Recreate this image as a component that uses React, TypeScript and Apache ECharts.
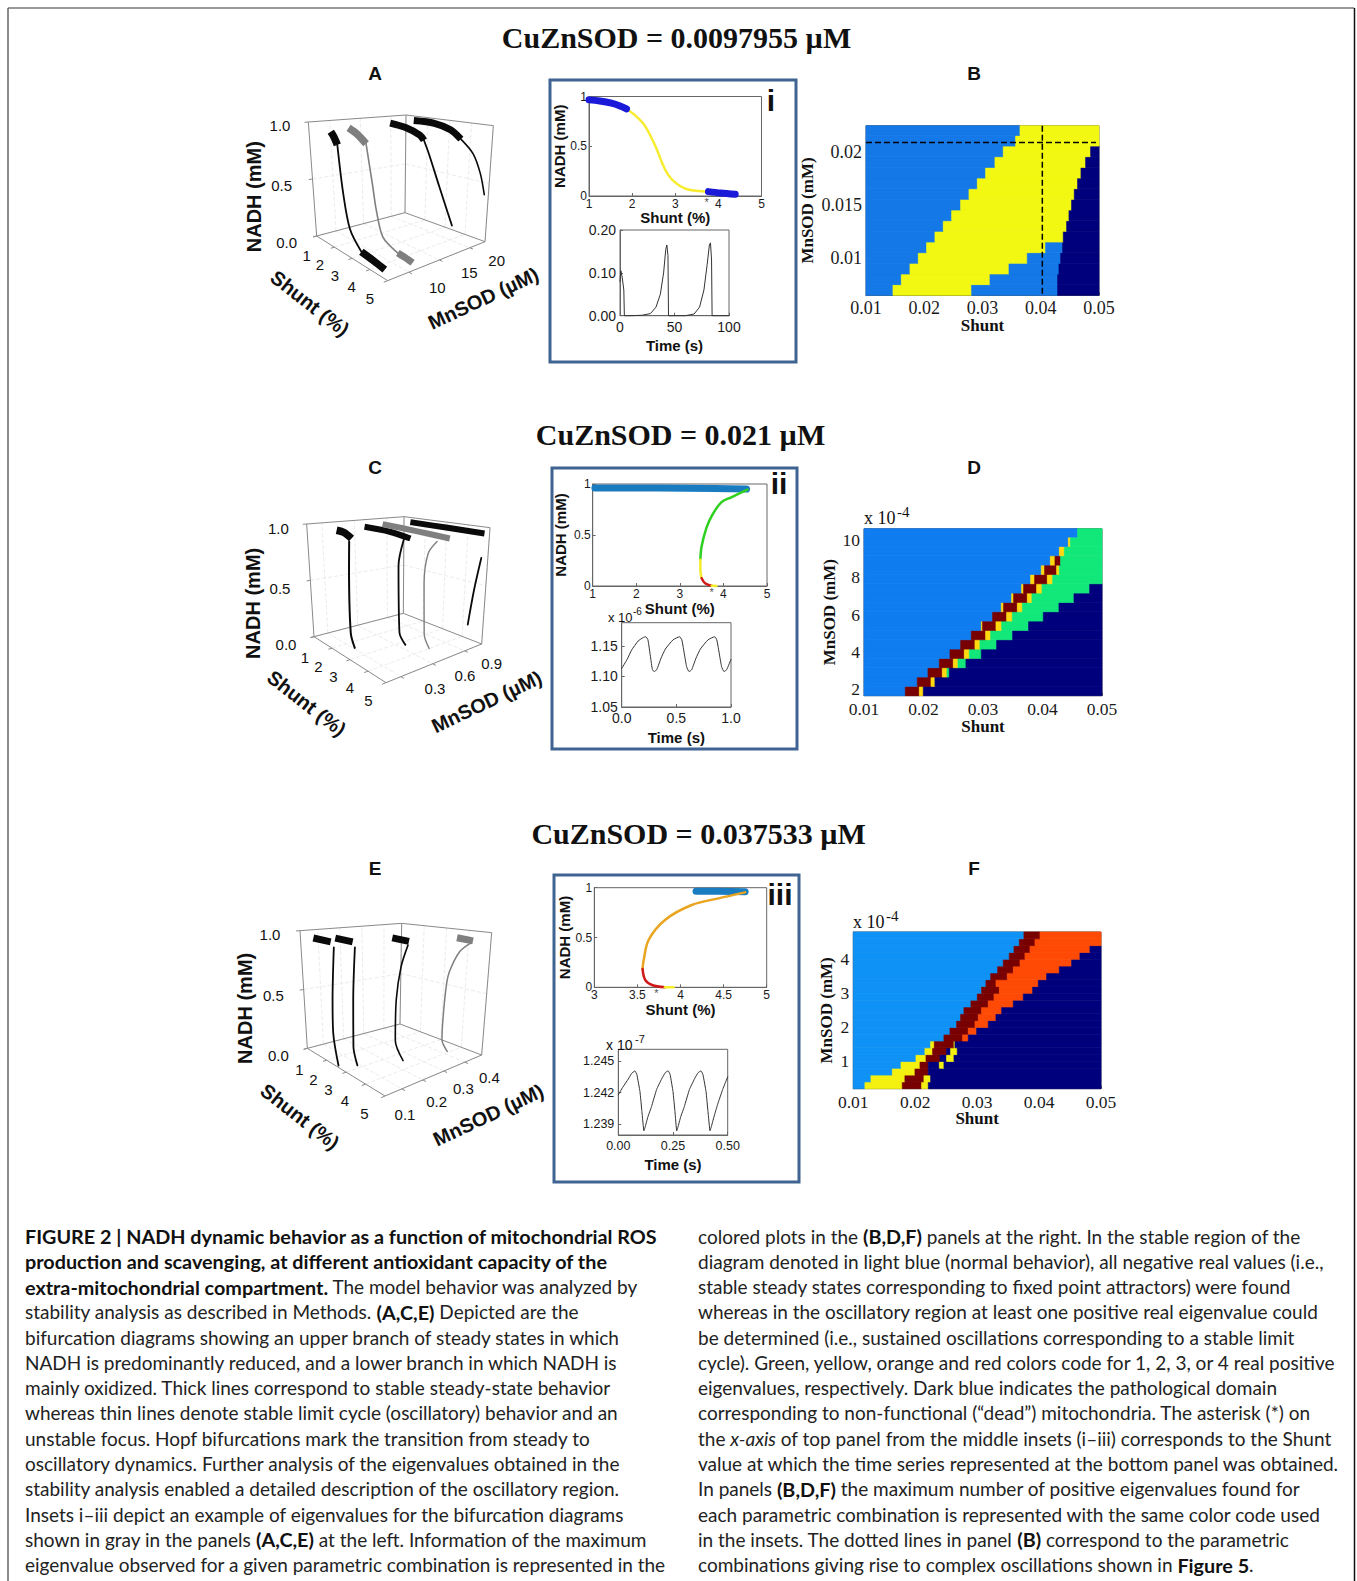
import React, { useEffect, useRef } from "react";
import * as echarts from "echarts";

const WIDTH = 1357;
const HEIGHT = 1581;
const SANS = "Liberation Sans";
const SERIF = "Liberation Serif";
const CAP = "Lato";

// ---------- headings ----------
const headings = ["CuZnSOD = 0.0097955 µM", "CuZnSOD = 0.021 µM", "CuZnSOD = 0.037533 µM"];

// ---------- bifurcation insets [shunt %, NADH mM] ----------
const iUpper = [[1, 0.966], [1.25, 0.955], [1.52, 0.933], [1.72, 0.905], [1.87, 0.875]];
const iOsc = [[1.87, 0.875], [2.06, 0.815], [2.29, 0.71], [2.53, 0.51], [2.84, 0.21], [3.22, 0.077], [3.69, 0.044], [3.8, 0.04]];
const iLower = [[3.77, 0.044], [4.05, 0.03], [4.39, 0.017]];
const iStar = [[3.73, 0]];

const iiUpper = [[1.05, 0.96], [2.5, 0.96], [3.8, 0.955], [4.53, 0.95]];
const iiGreen = [[4.55, 0.945], [4.18, 0.87], [3.95, 0.82], [3.73, 0.686], [3.61, 0.57], [3.5, 0.39], [3.47, 0.257]];
const iiYellow = [[3.47, 0.257], [3.47, 0.16], [3.5, 0.076]];
const iiRed = [[3.5, 0.076], [3.58, 0.026], [3.73, 0.003]];
const iiYellow2 = [[3.73, 0.003], [3.84, 0]];
const iiStar = [[3.73, 0]];

const iiiUpper = [[4.18, 0.965], [4.45, 0.965], [4.75, 0.96]];
const iiiOrange = [[4.75, 0.953], [4.44, 0.893], [4.13, 0.826], [3.82, 0.676], [3.63, 0.475], [3.57, 0.258], [3.56, 0.184]];
const iiiRed = [[3.56, 0.184], [3.59, 0.074], [3.67, 0.023], [3.82, 0]];
const iiiYellow = [[3.82, 0], [3.92, 0]];
const iiiStar = [[3.72, 0]];

// ---------- time series insets ----------
const iTime = [[0, 0.08], [0.8, 0.105], [2, 0.09], [3.5, 0.06], [4, 0], [10, 0], [20, 0.001], [28, 0.005], [33, 0.02], [37, 0.05], [40, 0.1], [42, 0.155], [43, 0.165], [44, 0.14], [44.5, 0], [60, 0], [68, 0.004], [73, 0.02], [77, 0.06], [80, 0.12], [82, 0.165], [83, 0.17], [84, 0.13], [84.5, 0], [100, 0]];
const iiTime = [[0, 1.113], [0.05, 1.128], [0.09, 1.143], [0.15, 1.158], [0.2, 1.164], [0.22, 1.165], [0.24, 1.16], [0.265, 1.13], [0.28, 1.112], [0.295, 1.108], [0.32, 1.111], [0.36, 1.13], [0.4, 1.145], [0.47, 1.16], [0.53, 1.165], [0.55, 1.16], [0.575, 1.135], [0.594, 1.116], [0.616, 1.108], [0.64, 1.111], [0.68, 1.13], [0.72, 1.145], [0.79, 1.16], [0.85, 1.165], [0.87, 1.16], [0.895, 1.135], [0.914, 1.116], [0.936, 1.108], [0.96, 1.111], [1, 1.128]];
const iiiTime = [[0, 1.2418], [0.02, 1.2425], [0.046, 1.2433], [0.06, 1.2438], [0.076, 1.24406], [0.085, 1.2437], [0.099, 1.2421], [0.108, 1.2402], [0.117, 1.2384], [0.122, 1.2387], [0.135, 1.2397], [0.152, 1.2407], [0.175, 1.2423], [0.198, 1.2433], [0.215, 1.2439], [0.228, 1.24406], [0.237, 1.2437], [0.25, 1.2421], [0.259, 1.2402], [0.267, 1.2384], [0.272, 1.2387], [0.285, 1.2397], [0.302, 1.2407], [0.325, 1.2423], [0.348, 1.2433], [0.365, 1.2439], [0.378, 1.24406], [0.387, 1.2437], [0.401, 1.2421], [0.41, 1.2402], [0.419, 1.2384], [0.424, 1.2387], [0.437, 1.2397], [0.454, 1.2409], [0.477, 1.2423], [0.5, 1.2435]];

// ---------- 3D bifurcation curves [shunt %, NADH mM] ----------
const aM = [7.8, 11.5, 18.5, 22];
const a1Upper = [[1.7, 0.93], [1.85, 0.89], [2, 0.83]];
const a1Thin = [[2, 0.83], [2.2, 0.44], [2.5, 0.17], [3.1, 0.04]];
const a1Lower = [[3.1, 0.04], [3.8, 0.025], [4.4, 0.01]];
const a2Upper = [[1.46, 0.94], [1.85, 0.9], [2.3, 0.83]];
const a2Thin = [[2.3, 0.83], [2.6, 0.48], [2.76, 0.3], [3.1, 0.1], [3.9, 0.035]];
const a2Lower = [[3.9, 0.035], [4.3, 0.03], [4.7, 0.02]];
const a3Upper = [[1.4, 0.95], [2.1, 0.93], [2.8, 0.88], [3, 0.84]];
const a3Thin = [[3, 0.84], [3.25, 0.73], [3.8, 0.47], [4.5, 0.18]];
const a4Upper = [[1.5, 0.96], [2.45, 0.96], [3.2, 0.92], [3.7, 0.85]];
const a4Thin = [[3.7, 0.85], [4.3, 0.74], [4.7, 0.58], [4.95, 0.41]];

const cM = [0.313, 0.655, 0.745, 1.03];
const c1Upper = [[1.64, 0.95], [2, 0.94], [2.36, 0.9]];
const c1Thin = [[2.24, 0.87], [2.2, 0.66], [2.2, 0.105], [2.4, 0]];
const c2Upper = [[1.2, 0.94], [2.4, 0.93], [3.4, 0.9]];
const c2Thin = [[3.08, 0.88], [2.84, 0.65], [2.92, 0.08], [3.24, 0]];
const c3Upper = [[1.6, 0.97], [3.2, 0.95], [4.8, 0.93]];
const c3Thin = [[4.2, 0.89], [3.8, 0.78], [3.64, 0.52], [3.72, 0.1], [4, 0]];
const c4Upper = [[1.45, 0.96], [3.2, 0.955], [4.92, 0.95]];
const c4Thin = [[4.85, 0.74], [4.6, 0.45], [4.4, 0.14]];

const eM = [0.03, 0.09, 0.25, 0.42];
const e1Upper = [[1.5, 0.95], [2.3, 0.94]];
const e1Thin = [[2.44, 0.9], [2.3, 0.49], [2.28, 0.23], [2.5, 0]];
const e2Upper = [[1.9, 0.95], [2.7, 0.94]];
const e2Thin = [[2.8, 0.9], [2.68, 0.49], [2.65, 0.13], [2.84, 0]];
const e3Upper = [[2.88, 0.95], [3.64, 0.94]];
const e3Thin = [[3.6, 0.91], [3.3, 0.73], [3.1, 0.46], [3.08, 0.13], [3.48, 0]];
const e4Upper = [[4.08, 0.95], [4.8, 0.94]];
const e4Thin = [[4.7, 0.92], [4.24, 0.84], [3.84, 0.67], [3.72, 0.55], [3.64, 0.27], [3.64, 0.08], [3.92, 0]];

// ---------- regime maps: L light blue, G green, Y yellow, O orange, R red, N dark blue ----------
const L = 0, G = 1, Y = 2, O = 3, R = 4, N = 5;
const bRowBase = 0.00653;
const bRowStep = 0.001;
const bRows = [
  [[L, 0.01463], [Y, 0.02814], [L, 0.0429], [N, 0.05]],
  [[L, 0.01607], [Y, 0.03129], [L, 0.0429], [N, 0.05]],
  [[L, 0.01755], [Y, 0.03455], [L, 0.04313], [N, 0.05]],
  [[L, 0.01898], [Y, 0.03769], [L, 0.04342], [N, 0.05]],
  [[L, 0.02041], [Y, 0.04084], [L, 0.04376], [N, 0.05]],
  [[L, 0.02184], [Y, 0.04387], [N, 0.05]],
  [[L, 0.02327], [Y, 0.04445], [N, 0.05]],
  [[L, 0.02471], [Y, 0.04485], [N, 0.05]],
  [[L, 0.02625], [Y, 0.0453], [N, 0.05]],
  [[L, 0.02768], [Y, 0.04576], [N, 0.05]],
  [[L, 0.02911], [Y, 0.04633], [N, 0.05]],
  [[L, 0.03054], [Y, 0.04691], [N, 0.05]],
  [[L, 0.03214], [Y, 0.04771], [N, 0.05]],
  [[L, 0.03357], [Y, 0.04857], [N, 0.05]],
  [[L, 0.03569], [Y, 0.05]],
  [[L, 0.03644], [Y, 0.05]],
];
const bDashH = [[0.01, 0.02087], [0.0495, 0.02087]];
const bDashV = [[0.04027, 0.02244], [0.04027, 0.00653]];

const dRowBase = 1.66;
const dRowStep = 0.5;
const dRows = [
  [[L, 0.01695], [R, 0.0193], [Y, 0.01997], [N, 0.05]],
  [[L, 0.01896], [R, 0.02126], [Y, 0.02193], [N, 0.05]],
  [[L, 0.02076], [R, 0.02316], [Y, 0.02395], [G, 0.02434], [N, 0.05]],
  [[L, 0.02266], [R, 0.02501], [Y, 0.0258], [G, 0.02714], [N, 0.05]],
  [[L, 0.02445], [R, 0.02686], [Y, 0.0277], [G, 0.02972], [N, 0.05]],
  [[L, 0.02625], [R, 0.02865], [Y, 0.02949], [G, 0.0323], [N, 0.05]],
  [[L, 0.02804], [R, 0.03045], [Y, 0.03129], [G, 0.03498], [N, 0.05]],
  [[L, 0.02972], [Y, 0.02994], [R, 0.03218], [Y, 0.03314], [G, 0.03767], [N, 0.05]],
  [[L, 0.03162], [R, 0.03398], [Y, 0.03493], [G, 0.04014], [N, 0.05]],
  [[L, 0.03308], [Y, 0.03347], [R, 0.03577], [Y, 0.03661], [G, 0.04277], [N, 0.05]],
  [[L, 0.03482], [Y, 0.03515], [R, 0.03745], [Y, 0.03823], [G, 0.04529], [N, 0.05]],
  [[L, 0.0365], [Y, 0.03683], [R, 0.03902], [Y, 0.03992], [G, 0.04793], [N, 0.05]],
  [[L, 0.03801], [Y, 0.03868], [R, 0.04081], [Y, 0.04171], [G, 0.05]],
  [[L, 0.0398], [Y, 0.04036], [R, 0.04238], [Y, 0.04283], [G, 0.05]],
  [[L, 0.04132], [Y, 0.0421], [R, 0.04305], [G, 0.05]],
  [[L, 0.04283], [Y, 0.04367], [G, 0.05]],
  [[L, 0.04434], [Y, 0.04468], [G, 0.05]],
  [[L, 0.04591], [G, 0.05]],
];

const fRowBase = 0.174;
const fRowStep = 0.201;
const fRows = [
  [[L, 0.01188], [Y, 0.01791], [R, 0.02104], [Y, 0.02211], [N, 0.05]],
  [[L, 0.01285], [Y, 0.01834], [R, 0.02141], [Y, 0.02249], [N, 0.05]],
  [[L, 0.0163], [Y, 0.01996], [R, 0.02211], [N, 0.05]],
  [[L, 0.0177], [Y, 0.02077], [R, 0.02211], [N, 0.02389], [Y, 0.02464], [N, 0.05]],
  [[L, 0.02012], [Y, 0.02174], [R, 0.024], [N, 0.02507], [Y, 0.02626], [N, 0.05]],
  [[L, 0.02157], [Y, 0.02281], [R, 0.02507], [N, 0.02572], [Y, 0.0268], [N, 0.05]],
  [[L, 0.02249], [Y, 0.02308], [R, 0.02626], [Y, 0.02642], [N, 0.05]],
  [[L, 0.02464], [R, 0.02766], [O, 0.02857], [N, 0.05]],
  [[L, 0.02561], [R, 0.02857], [O, 0.02992], [N, 0.05]],
  [[L, 0.02669], [R, 0.02965], [O, 0.0318], [N, 0.05]],
  [[L, 0.02733], [R, 0.03019], [O, 0.03304], [N, 0.05]],
  [[L, 0.02787], [R, 0.03072], [O, 0.03396], [N, 0.05]],
  [[L, 0.029], [R, 0.0318], [O, 0.03584], [N, 0.05]],
  [[L, 0.03003], [R, 0.03272], [O, 0.03745], [N, 0.05]],
  [[L, 0.03072], [R, 0.03358], [O, 0.03896], [N, 0.05]],
  [[L, 0.03142], [R, 0.03304], [O, 0.03988], [N, 0.05]],
  [[L, 0.03218], [R, 0.03487], [O, 0.04122], [N, 0.05]],
  [[L, 0.03331], [R, 0.03584], [O, 0.04327], [N, 0.05]],
  [[L, 0.03422], [R, 0.03692], [O, 0.04526], [N, 0.05]],
  [[L, 0.03519], [R, 0.03772], [O, 0.0466], [N, 0.05]],
  [[L, 0.03595], [R, 0.03853], [O, 0.04822], [N, 0.05]],
  [[L, 0.03681], [R, 0.03934], [O, 0.05]],
  [[L, 0.03756], [R, 0.04015], [O, 0.05]],
];

// ---------- caption ----------
const captionLeft = [
  "{b|FIGURE 2 | NADH dynamic behavior as a function of mitochondrial ROS}",
  "{b|production and scavenging, at different antioxidant capacity of the}",
  "{b|extra-mitochondrial compartment.} The model behavior was analyzed by",
  "stability analysis as described in Methods. {b|(A,C,E)} Depicted are the",
  "bifurcation diagrams showing an upper branch of steady states in which",
  "NADH is predominantly reduced, and a lower branch in which NADH is",
  "mainly oxidized. Thick lines correspond to stable steady-state behavior",
  "whereas thin lines denote stable limit cycle (oscillatory) behavior and an",
  "unstable focus. Hopf bifurcations mark the transition from steady to",
  "oscillatory dynamics. Further analysis of the eigenvalues obtained in the",
  "stability analysis enabled a detailed description of the oscillatory region.",
  "Insets i–iii depict an example of eigenvalues for the bifurcation diagrams",
  "shown in gray in the panels {b|(A,C,E)} at the left. Information of the maximum",
  "eigenvalue observed for a given parametric combination is represented in the",
];
const captionRight = [
  "colored plots in the {b|(B,D,F)} panels at the right. In the stable region of the",
  "diagram denoted in light blue (normal behavior), all negative real values (i.e.,",
  "stable steady states corresponding to fixed point attractors) were found",
  "whereas in the oscillatory region at least one positive real eigenvalue could",
  "be determined (i.e., sustained oscillations corresponding to a stable limit",
  "cycle). Green, yellow, orange and red colors code for 1, 2, 3, or 4 real positive",
  "eigenvalues, respectively. Dark blue indicates the pathological domain",
  "corresponding to non-functional (“dead”) mitochondria. The asterisk (*) on",
  "the {i|x-axis} of top panel from the middle insets (i–iii) corresponds to the Shunt",
  "value at which the time series represented at the bottom panel was obtained.",
  "In panels {b|(B,D,F)} the maximum number of positive eigenvalues found for",
  "each parametric combination is represented with the same color code used",
  "in the insets. The dotted lines in panel {b|(B)} correspond to the parametric",
  "combinations giving rise to complex oscillations shown in {b|Figure 5}.",
];

type Box = { l: number; r: number; t: number; b: number };

function buildOption() {
  const grids: any[] = [];
  const xAxes: any[] = [];
  const yAxes: any[] = [];
  const series: any[] = [];
  const graphic: any[] = [];

  const text = (x: number, y: number, t: string, font: string, extra: any = {}) => {
    const { rotation, align, vAlign, fill } = extra;
    graphic.push({
      type: "text",
      x,
      y,
      rotation: rotation || 0,
      z: 20,
      style: {
        text: t,
        font,
        fill: fill || "#111",
        textAlign: align || "center",
        textVerticalAlign: vAlign || "middle",
      },
    });
  };

  const axisBase = (fontFamily: string, fontSize: number, nameSize: number, color = "#444") => ({
    type: "value",
    axisLine: { show: true, onZero: false, lineStyle: { color, width: 1 } },
    axisTick: { show: true, inside: true, length: 3, lineStyle: { color, width: 1 } },
    splitLine: { show: false },
    axisLabel: { color: "#1a1a1a", fontFamily, fontSize, margin: 4, showMinLabel: true, showMaxLabel: true },
    nameLocation: "middle",
    nameMoveOverlap: false,
    nameTextStyle: { color: "#111", fontFamily, fontSize: nameSize, fontWeight: "bold" },
  });

  const addPlot = (box: Box, x: any, y: any, style: any) => {
    const i = grids.length;
    grids.push({
      show: true,
      left: box.l,
      top: box.t,
      width: box.r - box.l,
      height: box.b - box.t,
      borderColor: style.border,
      borderWidth: 1,
      backgroundColor: "transparent",
    });
    const base = axisBase(style.family, style.size, style.nameSize, style.border);
    xAxes.push({ ...base, ...x, gridIndex: i, axisLabel: { ...base.axisLabel, ...(x.axisLabel || {}) }, axisTick: { ...base.axisTick, ...(x.axisTick || {}) } });
    yAxes.push({ ...base, ...y, gridIndex: i, axisLabel: { ...base.axisLabel, ...(y.axisLabel || {}) }, axisTick: { ...base.axisTick, ...(y.axisTick || {}) } });
    return i;
  };

  const addLine = (idx: number, data: number[][], color: string, width: number, smooth: any = 0.35, z = 3, cap = "round") => {
    series.push({
      type: "line",
      xAxisIndex: idx,
      yAxisIndex: idx,
      data,
      showSymbol: false,
      symbol: "none",
      smooth,
      silent: true,
      clip: false,
      z,
      lineStyle: { color, width, cap, join: "round" },
    });
  };

  const addStar = (idx: number, data: number[][]) => {
    series.push({
      type: "scatter",
      xAxisIndex: idx,
      yAxisIndex: idx,
      data,
      symbolSize: 0,
      clip: false,
      silent: true,
      label: { show: true, formatter: "*", position: "bottom", distance: 0, color: "#222", fontSize: 11, fontFamily: SANS },
    });
  };

  const fx1 = (v: number) => v.toFixed(1);
  const fx2 = (v: number) => v.toFixed(2);
  const fx3 = (v: number) => v.toFixed(3);

  // ---------- bifurcation + time insets ----------
  const topStyle = { border: "#666", family: SANS, size: 12, nameSize: 15 };
  const lowStyle = { border: "#666", family: SANS, size: 14, nameSize: 15 };
  const topLabel = { margin: 2 };

  const topY = (gap: number) => ({ min: 0, max: 1, interval: 0.5, name: "NADH (mM)", nameGap: gap, axisLabel: topLabel });

  const i1 = addPlot({ l: 589, r: 761.5, t: 96.5, b: 196 },
    { min: 1, max: 5, interval: 1, name: "Shunt (%)", nameGap: 14, axisLabel: topLabel }, topY(22), topStyle);
  addLine(i1, iOsc, "#f7ec2e", 2.5);
  addLine(i1, iUpper, "#1a1ad8", 7);
  addLine(i1, iLower, "#1a1ad8", 7);
  addStar(i1, iStar);

  const i2 = addPlot({ l: 620, r: 729, t: 230, b: 315.7 },
    { min: 0, max: 100, interval: 50, name: "Time (s)", nameGap: 22 },
    { min: 0, max: 0.2, interval: 0.1, axisLabel: { formatter: fx2 } }, lowStyle);
  addLine(i2, iTime, "#333", 1, false);

  const ii1 = addPlot({ l: 592.7, r: 767, t: 484, b: 586 },
    { min: 1, max: 5, interval: 1, name: "Shunt (%)", nameGap: 15, axisLabel: topLabel }, topY(25), topStyle);
  addLine(ii1, iiGreen, "#2fd020", 2.5);
  addLine(ii1, iiYellow, "#f3ec2a", 2.5);
  addLine(ii1, iiRed, "#d01a1a", 2.5);
  addLine(ii1, iiYellow2, "#f3ec2a", 2.5, false);
  addLine(ii1, iiUpper, "#1a7cc0", 7, false, 2);
  addStar(ii1, iiStar);

  const ii2 = addPlot({ l: 621.7, r: 731, t: 622.7, b: 707 },
    { min: 0, max: 1, interval: 0.5, name: "Time (s)", nameGap: 23, axisLabel: { formatter: fx1 } },
    { min: 1.05, max: 1.188, axisLabel: { formatter: fx2, customValues: [1.05, 1.1, 1.15] }, axisTick: { customValues: [1.05, 1.1, 1.15] } }, lowStyle);
  addLine(ii2, iiTime, "#333", 1, 0.15);

  const iii1 = addPlot({ l: 594.3, r: 766.7, t: 887.7, b: 987.3 },
    { min: 3, max: 5, interval: 0.5, name: "Shunt (%)", nameGap: 15, axisLabel: topLabel }, topY(22), topStyle);
  addLine(iii1, iiiUpper, "#1a7cc0", 7, false, 2);
  addLine(iii1, iiiOrange, "#e9a420", 2.5);
  addLine(iii1, iiiRed, "#d01a1a", 2.5);
  addLine(iii1, iiiYellow, "#f7ef2a", 2.5, false);
  addStar(iii1, iiiStar);

  const iii2 = addPlot({ l: 618.3, r: 727.7, t: 1049.3, b: 1135 },
    { min: 0, max: 0.5, interval: 0.25, name: "Time (s)", nameGap: 22, axisLabel: { formatter: fx2, fontSize: 12.5 } },
    { min: 1.238, max: 1.2461, axisLabel: { formatter: fx3, fontSize: 12.5, customValues: [1.239, 1.242, 1.245] }, axisTick: { customValues: [1.239, 1.242, 1.245] } }, lowStyle);
  addLine(iii2, iiiTime, "#333", 1, 0.1);

  // ---------- regime maps ----------
  const renderCell = (palette: string[]) => (_: any, api: any) => {
    const p1 = api.coord([api.value(0), api.value(3)]);
    const p2 = api.coord([api.value(1), api.value(2)]);
    const fill = palette[api.value(4)];
    return {
      type: "rect",
      shape: { x: p1[0], y: p1[1], width: p2[0] - p1[0], height: p2[1] - p1[1] },
      style: { fill, stroke: fill, lineWidth: 0.7 },
    };
  };

  const addMap = (box: Box, rows: any[], base: number, step: number, ymax: number, yTicks: number[], yFmt: any, palette: string[], xGap: number, yGap: number, fontSize: number) => {
    const idx = addPlot(box,
      { min: 0.01, max: 0.05, interval: 0.01, name: "Shunt", nameGap: xGap, axisLabel: { formatter: fx2 } },
      { min: base, max: ymax, name: "MnSOD (mM)", nameGap: yGap, axisLabel: { formatter: yFmt, customValues: yTicks }, axisTick: { customValues: yTicks } },
      { border: "#555", family: SERIF, size: fontSize, nameSize: 17 });
    const cells: number[][] = [];
    rows.forEach((row, r) => {
      let x0 = 0.01;
      const y0 = base + r * step;
      const y1 = Math.min(ymax, y0 + step);
      row.forEach(([code, x1]: number[]) => {
        cells.push([x0, x1, y0, y1, code]);
        x0 = x1;
      });
    });
    series.push({
      type: "custom",
      xAxisIndex: idx,
      yAxisIndex: idx,
      data: cells,
      silent: true,
      z: 1,
      encode: { x: [0, 1], y: [2, 3] },
      renderItem: renderCell(palette),
    });
    return idx;
  };

  const bMap = addMap({ l: 866, r: 1099, t: 125.7, b: 295.3 }, bRows, bRowBase, bRowStep, 0.02244, [0.01, 0.015, 0.02], (v: number) => String(v),
    ["#1478e6", "#12e87a", "#f2f811", "#ff4a05", "#780000", "#00007c"], 22, 50, 18);
  const dashed = { type: "dashed" };
  series.push({ type: "line", xAxisIndex: bMap, yAxisIndex: bMap, data: bDashH, showSymbol: false, silent: true, z: 5, lineStyle: { color: "#000", width: 1.5, ...dashed } });
  series.push({ type: "line", xAxisIndex: bMap, yAxisIndex: bMap, data: bDashV, showSymbol: false, silent: true, z: 5, lineStyle: { color: "#000", width: 1.5, ...dashed } });

  addMap({ l: 864, r: 1102, t: 528.7, b: 695.7 }, dRows, dRowBase, dRowStep, 10.61, [2, 4, 6, 8, 10], (v: number) => String(v),
    ["#0f7cf0", "#12e87a", "#ffd90f", "#ff4a05", "#780000", "#00007c"], 22, 26, 17.5);
  addMap({ l: 853.3, r: 1101, t: 932, b: 1088.7 }, fRows, fRowBase, fRowStep, 4.797, [1, 2, 3, 4], (v: number) => String(v),
    ["#0e92f5", "#12e87a", "#f4f010", "#ff4a05", "#780000", "#00007c"], 21, 18, 17.5);

  // ---------- 3D panels on a hidden page-sized plane ----------
  const overlay = grids.length;
  grids.push({ show: false, left: 0, top: 0, width: WIDTH, height: HEIGHT });
  xAxes.push({ type: "value", gridIndex: overlay, min: 0, max: WIDTH, show: false });
  yAxes.push({ type: "value", gridIndex: overlay, min: 0, max: HEIGHT, inverse: true, show: false });

  const addCube = (cfg: any) => {
    const pt = (p: number[]) => [cfg.ox + p[0] / 3, cfg.oy + p[1] / 3];
    const [A, B, Cc, D] = cfg.floor.map(pt);
    const [A2, B2, C2, D2] = cfg.top.map(pt);
    const mix = (a: number[], b: number[], t: number) => [a[0] + (b[0] - a[0]) * t, a[1] + (b[1] - a[1]) * t];
    const proj = (s: number, m: number, n: number) => {
      const u = (s - 1) / 4;
      const v = (m - cfg.mMin) / (cfg.mMax - cfg.mMin);
      const lo = mix(mix(A, D, u), mix(B, Cc, u), v);
      const hi = mix(mix(A2, D2, u), mix(B2, C2, u), v);
      return mix(lo, hi, n);
    };
    const gap = [NaN, NaN];
    const seg: number[][] = [];
    const faint: number[][] = [];
    const add = (list: number[][], a: number[], b: number[]) => list.push(a, b, gap);
    const { mMin, mMax } = cfg;
    add(seg, proj(1, mMin, 0), proj(5, mMin, 0));
    add(seg, proj(5, mMin, 0), proj(5, mMax, 0));
    add(seg, proj(5, mMax, 0), proj(1, mMax, 0));
    add(seg, proj(1, mMax, 0), proj(1, mMin, 0));
    add(seg, proj(1, mMin, 0), proj(1, mMin, 1));
    add(seg, proj(1, mMax, 0), proj(1, mMax, 1));
    add(seg, proj(5, mMax, 0), proj(5, mMax, 1));
    add(seg, proj(1, mMin, 1), proj(1, mMax, 1));
    add(seg, proj(1, mMax, 1), proj(5, mMax, 1));
    const dm = (mMax - mMin) * 0.04;
    [1, 2, 3, 4, 5].forEach((s) => {
      add(seg, proj(s, mMin, 0), proj(s, mMin - dm, 0));
      add(faint, proj(s, mMin, 0), proj(s, mMax, 0));
      add(faint, proj(s, mMax, 0), proj(s, mMax, 1));
    });
    cfg.mTicks.forEach((m: number) => {
      add(seg, proj(5, m, 0), proj(5 + 0.16, m, 0));
      add(faint, proj(1, m, 0), proj(5, m, 0));
      add(faint, proj(1, m, 0), proj(1, m, 1));
    });
    [0, 0.5, 1].forEach((n) => add(seg, proj(1, mMin, n), proj(1, mMin - dm, n)));
    add(faint, proj(1, mMin, 0.5), proj(1, mMax, 0.5));
    add(faint, proj(1, mMax, 0.5), proj(5, mMax, 0.5));
    series.push({ type: "line", xAxisIndex: overlay, yAxisIndex: overlay, data: faint, showSymbol: false, silent: true, z: 1, lineStyle: { color: "#ececec", width: 1, type: "dashed" } });
    series.push({ type: "line", xAxisIndex: overlay, yAxisIndex: overlay, data: seg, showSymbol: false, silent: true, z: 2, lineStyle: { color: "#8a8a8a", width: 1 } });
    cfg.curves.forEach((c: any) => {
      c.parts.forEach(([pts, width]: any) => {
        addLine(overlay, pts.map((p: number[]) => proj(p[0], c.m, p[1])), c.color, width, 0.3, 4, width > 3 ? "butt" : "round");
      });
    });
    const lab = (p: number[], t: string) => text(pt(p)[0], pt(p)[1], t, `15px ${SANS}`);
    cfg.labels.forEach(([x, y, t]: any) => lab([x, y], t));
    const nm = `bold 20px ${SANS}`;
    text(pt(cfg.nadh)[0], pt(cfg.nadh)[1], "NADH (mM)", nm, { rotation: Math.PI / 2 });
    text(pt(cfg.shunt)[0], pt(cfg.shunt)[1], "Shunt (%)", nm, { rotation: -0.66 });
    text(pt(cfg.mnsod)[0], pt(cfg.mnsod)[1], "MnSOD (µM)", nm, { rotation: 0.44 });
  };

  const black = "#0a0a0a";
  const gray = "#7f7f7f";
  addCube({
    ox: 220, oy: 60, mMin: 6.5, mMax: 22.5, mTicks: [10, 15, 20],
    floor: [[290, 528], [555, 458], [795, 545], [503, 662]],
    top: [[265, 186], [558, 165], [820, 197], [505, 222]],
    curves: [
      { m: aM[0], color: black, parts: [[a1Thin, 1.8], [a1Upper, 7.5], [a1Lower, 7.5]] },
      { m: aM[1], color: gray, parts: [[a2Thin, 1.6], [a2Upper, 7.5], [a2Lower, 7]] },
      { m: aM[2], color: black, parts: [[a3Thin, 1.8], [a3Upper, 7]] },
      { m: aM[3], color: black, parts: [[a4Thin, 1.6], [a4Upper, 7]] },
    ],
    labels: [[180, 195, "1.0"], [185, 375, "0.5"], [200, 548, "0.0"], [260, 585, "1"], [300, 612, "2"], [345, 645, "3"], [395, 680, "4"], [450, 715, "5"], [652, 682, "10"], [748, 637, "15"], [830, 600, "20"]],
    nadh: [103, 410], shunt: [270, 730], mnsod: [790, 715],
  });
  addCube({
    ox: 220, oy: 500, mMin: 0.16, mMax: 1.06, mTicks: [0.3, 0.6, 0.9],
    floor: [[282, 410], [550, 340], [785, 432], [498, 548]],
    top: [[260, 72], [552, 50], [810, 83], [505, 105]],
    curves: [
      { m: cM[0], color: black, parts: [[c1Thin, 2], [c1Upper, 7.5]] },
      { m: cM[1], color: black, parts: [[c2Thin, 1.8], [c2Upper, 6]] },
      { m: cM[2], color: gray, parts: [[c3Thin, 1.4], [c3Upper, 6]] },
      { m: cM[3], color: black, parts: [[c4Thin, 1.8], [c4Upper, 6]] },
    ],
    labels: [[175, 85, "1.0"], [180, 265, "0.5"], [198, 432, "0.0"], [255, 472, "1"], [295, 498, "2"], [340, 530, "3"], [390, 563, "4"], [445, 600, "5"], [645, 565, "0.3"], [735, 525, "0.6"], [815, 490, "0.9"]],
    nadh: [98, 310], shunt: [260, 610], mnsod: [800, 605],
  });
  addCube({
    ox: 220, oy: 900, mMin: 0.02, mMax: 0.48, mTicks: [0.1, 0.2, 0.3, 0.4],
    floor: [[262, 445], [540, 372], [785, 465], [495, 588]],
    top: [[240, 92], [545, 70], [815, 98], [500, 125]],
    curves: [
      { m: eM[0], color: black, parts: [[e1Thin, 1.8], [e1Upper, 7]] },
      { m: eM[1], color: black, parts: [[e2Thin, 1.8], [e2Upper, 7]] },
      { m: eM[2], color: black, parts: [[e3Thin, 1.6], [e3Upper, 7]] },
      { m: eM[3], color: gray, parts: [[e4Thin, 1.5], [e4Upper, 7]] },
    ],
    labels: [[150, 102, "1.0"], [160, 285, "0.5"], [175, 465, "0.0"], [238, 507, "1"], [280, 537, "2"], [325, 567, "3"], [375, 600, "4"], [433, 640, "5"], [555, 643, "0.1"], [650, 605, "0.2"], [730, 565, "0.3"], [808, 532, "0.4"]],
    nadh: [75, 325], shunt: [240, 650], mnsod: [805, 645],
  });

  // ---------- frames ----------
  const outer = (x1: number, y1: number, x2: number, y2: number, stroke: string, lw: number) =>
    graphic.push({ type: "line", shape: { x1, y1, x2, y2 }, z: 10, style: { stroke, lineWidth: lw } });
  outer(8, 8, 1354, 8, "#777", 1.5);
  outer(8, 8, 8, HEIGHT, "#666", 1.5);
  outer(1354.5, 8, 1354.5, HEIGHT, "#111", 1.5);
  const insetFrame = (l: number, t: number, r: number, b: number) =>
    graphic.push({ type: "rect", shape: { x: l, y: t, width: r - l, height: b - t }, z: 10, style: { fill: "none", stroke: "#3f6492", lineWidth: 3 } });
  insetFrame(550, 80, 796, 362);
  insetFrame(552, 468, 797, 749);
  insetFrame(554, 875, 799, 1182);

  // ---------- headings and panel letters ----------
  const hFont = `bold 30px ${SERIF}`;
  text(676.5, 37.5, headings[0], hFont);
  text(680.5, 434.5, headings[1], hFont);
  text(698.6, 833, headings[2], hFont);
  const lFont = `bold 19px ${SANS}`;
  ([["A", 375, 73], ["B", 974, 73], ["C", 375, 467], ["D", 974, 467], ["E", 375, 868], ["F", 974, 868]] as any[]).forEach(([t, x, y]) => text(x, y, t, lFont));
  const mark = `bold 30px ${SANS}`;
  text(771, 100, "i", mark);
  text(779, 483, "ii", mark);
  text(780, 894, "iii", mark);

  // exponents
  const expo = (x: number, y: number, e: string, font: number, family: string, off: number) => {
    text(x, y, "x 10", `${font}px ${family}`, { align: "left" });
    text(x + off, y - 6, e, `${font - 3}px ${family}`, { align: "left" });
  };
  expo(608, 617, "-6", 13, SANS, 25);
  expo(606, 1045, "-7", 14, SANS, 29);
  expo(864, 518, "-4", 18, SERIF, 33);
  expo(853, 922, "-4", 18, SERIF, 33);

  // ---------- caption ----------
  const rich = {
    b: { font: `bold 19.8px ${CAP}`, fill: "#111" },
    i: { font: `italic 19px ${CAP}`, fill: "#222" },
  };
  const writeCol = (lines: string[], x: number) =>
    lines.forEach((ln, k) => {
      graphic.push({
        type: "text",
        x,
        y: 1236 + k * 25.28,
        z: 20,
        style: { text: ln, font: `19px ${CAP}`, fill: "#222", textAlign: "left", textVerticalAlign: "middle", rich },
      });
    });
  writeCol(captionLeft, 25);
  writeCol(captionRight, 698);

  return {
    animation: false,
    backgroundColor: "#fff",
    grid: grids,
    xAxis: xAxes,
    yAxis: yAxes,
    series,
    graphic: { elements: graphic },
  };
}

export default function App() {
  const ref = useRef<HTMLDivElement | null>(null);
  useEffect(() => {
    if (!ref.current) return;
    const chart = echarts.init(ref.current, null, { renderer: "svg" });
    chart.setOption(buildOption() as any);
    return () => chart.dispose();
  }, []);
  return <div ref={ref} style={{ position: "absolute", left: 0, top: 0, width: WIDTH, height: HEIGHT }} />;
}
